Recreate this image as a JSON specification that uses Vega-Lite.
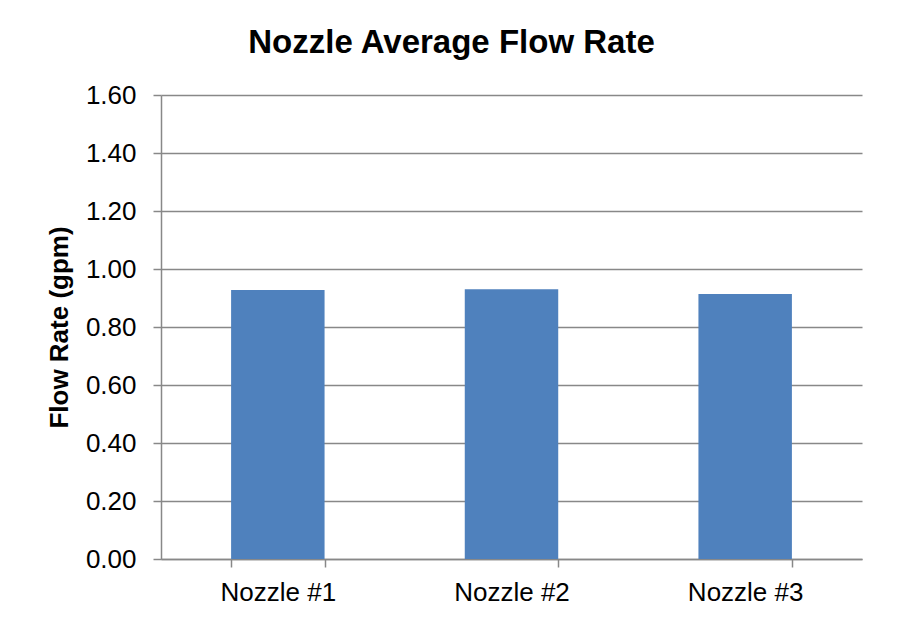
{
  "$schema": "https://vega.github.io/schema/vega-lite/v6.json",
  "width": 701,
  "height": 464,
  "autosize": {"type": "none"},
  "padding": {"left": 161, "top": 95, "right": 36, "bottom": 62},
  "background": "white",
  "title": {
    "text": "Nozzle Average Flow Rate",
    "font": "Liberation Sans",
    "fontSize": 33,
    "fontWeight": "bold",
    "color": "#000000",
    "anchor": "middle",
    "frame": "group",
    "dx": -60,
    "offset": 22
  },
  "data": {
    "values": [
      {"nozzle": "Nozzle #1", "flow": 0.928},
      {"nozzle": "Nozzle #2", "flow": 0.930},
      {"nozzle": "Nozzle #3", "flow": 0.914}
    ]
  },
  "mark": {"type": "bar", "color": "#4F81BD"},
  "encoding": {
    "x": {
      "field": "nozzle",
      "type": "nominal",
      "sort": null,
      "scale": {"paddingInner": 0.6, "paddingOuter": 0.3},
      "axis": {
        "title": null,
        "labelAngle": 0,
        "tickBand": "extent",
        "tickSize": 8,
        "labelPadding": 12,
        "labelFontSize": 26,
        "grid": false
      }
    },
    "y": {
      "field": "flow",
      "type": "quantitative",
      "scale": {"domain": [0, 1.6], "nice": false},
      "axis": {
        "title": "Flow Rate (gpm)",
        "values": [0, 0.2, 0.4, 0.6, 0.8, 1.0, 1.2, 1.4, 1.6],
        "format": ".2f",
        "tickSize": 8,
        "labelPadding": 17,
        "labelFontSize": 26,
        "titleFontSize": 26,
        "titleFontWeight": "bold",
        "titlePadding": 13,
        "grid": true
      }
    }
  },
  "config": {
    "font": "Liberation Sans",
    "view": {"stroke": null},
    "axis": {
      "domainColor": "#888888",
      "domainWidth": 1.5,
      "tickColor": "#888888",
      "tickWidth": 1.5,
      "gridColor": "#888888",
      "gridWidth": 1.5,
      "gridOpacity": 1,
      "labelColor": "#000000",
      "titleColor": "#000000",
      "labelFont": "Liberation Sans",
      "titleFont": "Liberation Sans",
      "labelFontWeight": "normal"
    }
  }
}
